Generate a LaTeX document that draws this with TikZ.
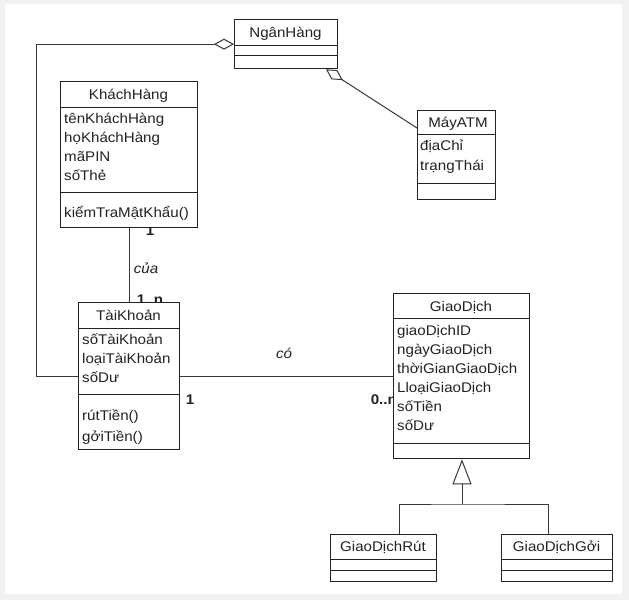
\documentclass[tikz,border=0pt]{standalone}
\usepackage{fontspec}
\setmainfont{Liberation Sans}[FakeStretch=1.08]
\usetikzlibrary{arrows.meta,calc}
\definecolor{framegray}{RGB}{241,241,241}
\definecolor{ink}{RGB}{34,34,34}
\newcommand{\umlclass}[7]{%
  \node[classbox, minimum width={(#4-#2)*1pt}, minimum height={(#5-#3)*1pt}] (#1) at (#2,#3) {};
  \draw[sepline] (#2,#6) -- (#4,#6);
  \draw[sepline] (#2,#7) -- (#4,#7);
}
\begin{document}
\begin{tikzpicture}[x=1pt,y=-1pt,
  every node/.style={font=\fontsize{14}{16}\selectfont, text=ink, inner sep=0pt},
  classbox/.style={draw=ink, line width=1.3pt, fill=white, anchor=north west},
  sepline/.style={draw=ink, line width=1pt},
  conn/.style={draw=ink!90, line width=1pt},
  ttl/.style={anchor=base},
  attr/.style={anchor=base west},
  mult/.style={font=\fontsize{14}{16}\selectfont\bfseries, anchor=base},
  assoc/.style={font=\fontsize{14}{16}\selectfont\itshape, anchor=base},
  agg/.style={{Diamond[open,fill=white,length=20pt,width=11pt]}-},
  gen/.style={-{Triangle[open,fill=white,length=25pt,width=19pt]}}
]
\useasboundingbox (0,0) rectangle (629,600);
\fill[framegray] (0,0) rectangle (629,600);
\fill[white] (5,4) rectangle (622,594);

% multiplicity labels (drawn first, partly hidden by boxes)
\node[mult] (m1) at (150,235.5) {1};
\node[mult] (m2) at (150,304) {1..n};
\node[mult] (m3) at (190,404) {1};
\node[mult, anchor=base east] (m4) at (397,404) {0..n};
\node[assoc] (lcua) at (146,273) {của};
\node[assoc] (lco) at (284,358) {có};

% classes
\umlclass{ng}{234}{19}{337}{68}{45}{55}
\node[ttl] (ngt) at (285.5,37) {NgânHàng};

\umlclass{kh}{60}{81}{197}{227}{107}{192}
\node[ttl] (kht) at (128.5,99.5) {KháchHàng};
\node[attr] (kha1) at (64,123) {tênKháchHàng};
\node[attr] (kha2) at (64,142.3) {họKháchHàng};
\node[attr] (kha3) at (64,161.6) {mãPIN};
\node[attr] (kha4) at (64,180.9) {sốThẻ};
\node[attr] (khm1) at (64,217) {kiểmTraMậtKhẩu()};

\umlclass{atm}{417}{110}{495}{199}{134}{183}
\node[ttl] (atmt) at (458,127.5) {MáyATM};
\node[attr] (atma1) at (420,150.5) {địaChỉ};
\node[attr] (atma2) at (420,170.5) {trạngThái};

\umlclass{tk}{78}{302}{179}{449}{328}{394}
\node[ttl] (tkt) at (128.5,320.5) {TàiKhoản};
\node[attr] (tka1) at (82,344.5) {sốTàiKhoản};
\node[attr] (tka2) at (82,363.5) {loạiTàiKhoản};
\node[attr] (tka3) at (82,382.5) {sốDư};
\node[attr] (tkm1) at (82,420.5) {rútTiền()};
\node[attr] (tkm2) at (82,441.5) {gởiTiền()};

\umlclass{gd}{393}{293}{529}{458}{318}{443}
\node[ttl] (gdt) at (461,311) {GiaoDịch};
\node[attr] (gda1) at (397,335.5) {giaoDịchID};
\node[attr] (gda2) at (397,354.5) {ngàyGiaoDịch};
\node[attr] (gda3) at (397,373.5) {thờiGianGiaoDịch};
\node[attr] (gda4) at (397,392.5) {LloạiGiaoDịch};
\node[attr] (gda5) at (397,411.5) {sốTiền};
\node[attr] (gda6) at (397,430.5) {sốDư};

\umlclass{rut}{330}{534}{436}{581}{559}{570}
\node[ttl] (rutt) at (383,551.5) {GiaoDịchRút};

\umlclass{goi}{501}{534}{612}{581}{559}{570}
\node[ttl] (goit) at (556.5,551.5) {GiaoDịchGởi};

% connectors
\draw[conn, agg] (ng.west) -| ($(tk.west)+(-42,0)$) -- (tk.west);
\draw[conn, agg] ($(ng.south west)+(92,0)$) -- ($(atm.north west)+(0,18)$);
\draw[conn] (kh.south) -- (tk.north);
\draw[conn] (tk.east) -- (tk.east -| gd.west);
\coordinate (junc) at (462,504);
\draw[conn] ($(rut.north west)+(69,0)$) |- (junc) -| ($(goi.north west)+(47,0)$);
\draw[conn, gen] (junc) -- (junc |- gd.south);
\end{tikzpicture}
\end{document}
